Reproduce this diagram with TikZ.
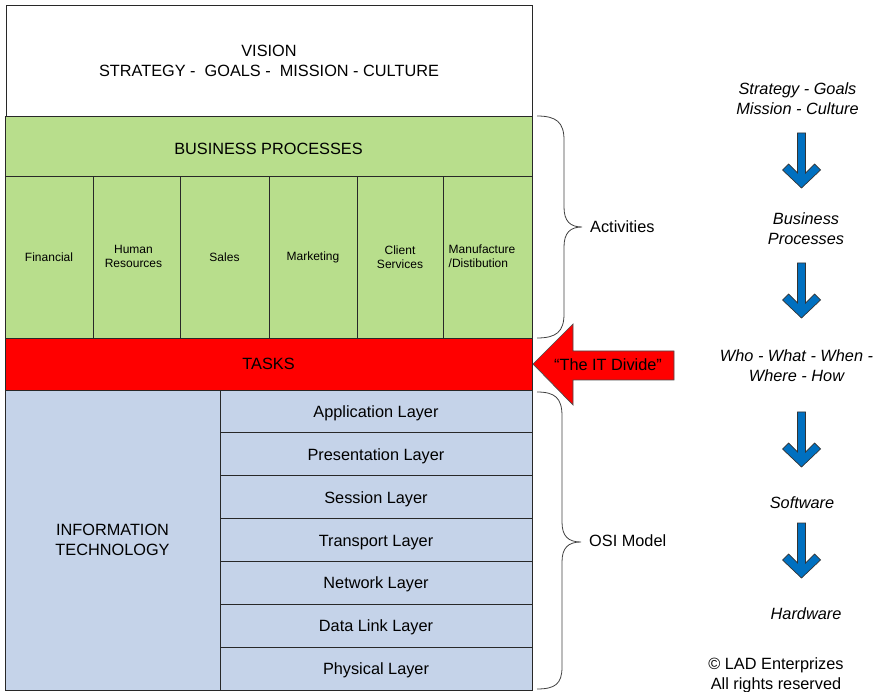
\documentclass[tikz,border=0pt]{standalone}
\usepackage{fontspec}
\setmainfont{Liberation Sans}
\definecolor{bpgreen}{RGB}{184,222,140}
\definecolor{itblue}{RGB}{197,211,233}
\definecolor{arrblue}{RGB}{0,112,192}
\definecolor{edge}{RGB}{40,40,40}
\tikzset{
  box/.style={draw=edge, line width=0.9pt, inner sep=0pt, align=center,
    font=\fontsize{16.3}{20}\selectfont},
  cell/.style={box, fill=bpgreen, font=\fontsize{12}{14}\selectfont},
  layer/.style={box, fill=itblue, minimum width=312, minimum height=42.857,
    text height=15.5pt, text depth=3.4pt},
  bracepath/.style={draw=black!75, line width=0.8pt},
  sidetxt/.style={font=\fontsize{16.3}{20}\selectfont\itshape, align=center, inner sep=0pt},
  plaintxt/.style={font=\fontsize{16.3}{20}\selectfont, align=center, inner sep=0pt},
  celltxt/.style={font=\fontsize{12}{14}\selectfont, align=center, inner sep=0pt},
  downarrow/.style={fill=arrblue, draw=black!80, line width=0.7pt, line join=miter}
}
\newcommand{\blueArrow}[3]{% name, x center, apex y
  \draw[downarrow] (#2,#3) -- ++(-19,-18) -- ++(6,-6) -- ++(9,9) -- ++(0,-40)
    -- ++(8,0) -- ++(0,40) -- ++(9,-9) -- ++(6,6) -- cycle;
  \coordinate (#1) at (#2,#3);
}
\begin{document}
\begin{tikzpicture}[x=1pt,y=-1pt]
\useasboundingbox (0,0) rectangle (873,692);

% left stack
\node[box, fill=white, minimum width=526, minimum height=111] (vision) at (269,60.5)
  {VISION\\STRATEGY -\ \ GOALS -\ \ MISSION - CULTURE};
\node[box, fill=bpgreen, minimum width=527, minimum height=60, text height=17.7pt, text depth=0pt] (bp) at (268.5,146)
  {BUSINESS PROCESSES};
\node[cell, minimum width=88, minimum height=162] (fin) at (49,257) {Financial};
\node[cell, minimum width=87, minimum height=162] (hr) at (136.5,257) {};
\node[celltxt] (hrtxt) at (133.5,256) {Human\\Resources};
\node[cell, minimum width=89, minimum height=162] (sales) at (224.5,257) {Sales};
\node[cell, minimum width=88, minimum height=162] (mkt) at (313,257) {Marketing};
\node[cell, minimum width=86, minimum height=162] (cs) at (400,257) {Client\\Services};
\node[cell, minimum width=89, minimum height=162] (mfg) at (487.5,257) {};
\node[celltxt, align=left, anchor=west] (mfgtxt) at (448.5,256)
  {Manufacture\\/Distibution};
\node[box, fill=red, minimum width=527, minimum height=52] (tasks) at (268.5,364) {TASKS};
\node[box, fill=itblue, minimum width=215, minimum height=300] (it) at (112.5,540)
  {INFORMATION\\TECHNOLOGY};
\node[layer] (l1) at (376,411.43) {Application Layer};
\node[layer] (l2) at (376,454.29) {Presentation Layer};
\node[layer] (l3) at (376,497.14) {Session Layer};
\node[layer] (l4) at (376,540.00) {Transport Layer};
\node[layer] (l5) at (376,582.86) {Network Layer};
\node[layer] (l6) at (376,625.71) {Data Link Layer};
\node[layer] (l7) at (376,668.57) {Physical Layer};

% braces
\coordinate (actTip) at (582,227);
\draw[bracepath] (537,116) .. controls (556,116) and (564,122) .. (564,140) -- (564,207)
  .. controls (564,221) and (570,227) .. (actTip)
  .. controls (570,227) and (564,233) .. (564,247) -- (564,314)
  .. controls (564,332) and (556,338) .. (537,338);
\node[plaintxt, anchor=west] (act) at (590,227) {Activities};

\coordinate (osiTip) at (581,542);
\draw[bracepath] (537,392) .. controls (555,392) and (562,398) .. (562,416) -- (562,522)
  .. controls (562,536) and (568,542) .. (osiTip)
  .. controls (568,542) and (562,548) .. (562,562) -- (562,667)
  .. controls (562,684) and (555,689) .. (537,689);
\node[plaintxt, anchor=west] (osi) at (589,541) {OSI Model};

% IT divide arrow
\draw[fill=red, draw=black!70, line width=0.7pt, line join=miter]
  (533,364) -- (573,324) -- (573,351) -- (674,351) -- (674,380) -- (573,380) -- (573,405) -- cycle;
\node[plaintxt] (divide) at (608,365) {“The IT Divide”};

% right column
\node[sidetxt] (s1) at (797.5,98.5) {Strategy - Goals\\Mission - Culture};
\blueArrow{a1}{801.5}{188}
\node[sidetxt] (s2) at (806,228.5) {Business\\Processes};
\blueArrow{a2}{801.5}{318}
\node[sidetxt] (s3) at (796.5,365.5) {Who - What - When -\\Where - How};
\blueArrow{a3}{801.5}{467}
\node[sidetxt] (s4) at (802,502.5) {Software};
\blueArrow{a4}{801.5}{578}
\node[sidetxt] (s5) at (806,613.5) {Hardware};
\node[plaintxt] (copy) at (776,675) {© LAD Enterprizes\\All rights reserved};
\end{tikzpicture}
\end{document}
